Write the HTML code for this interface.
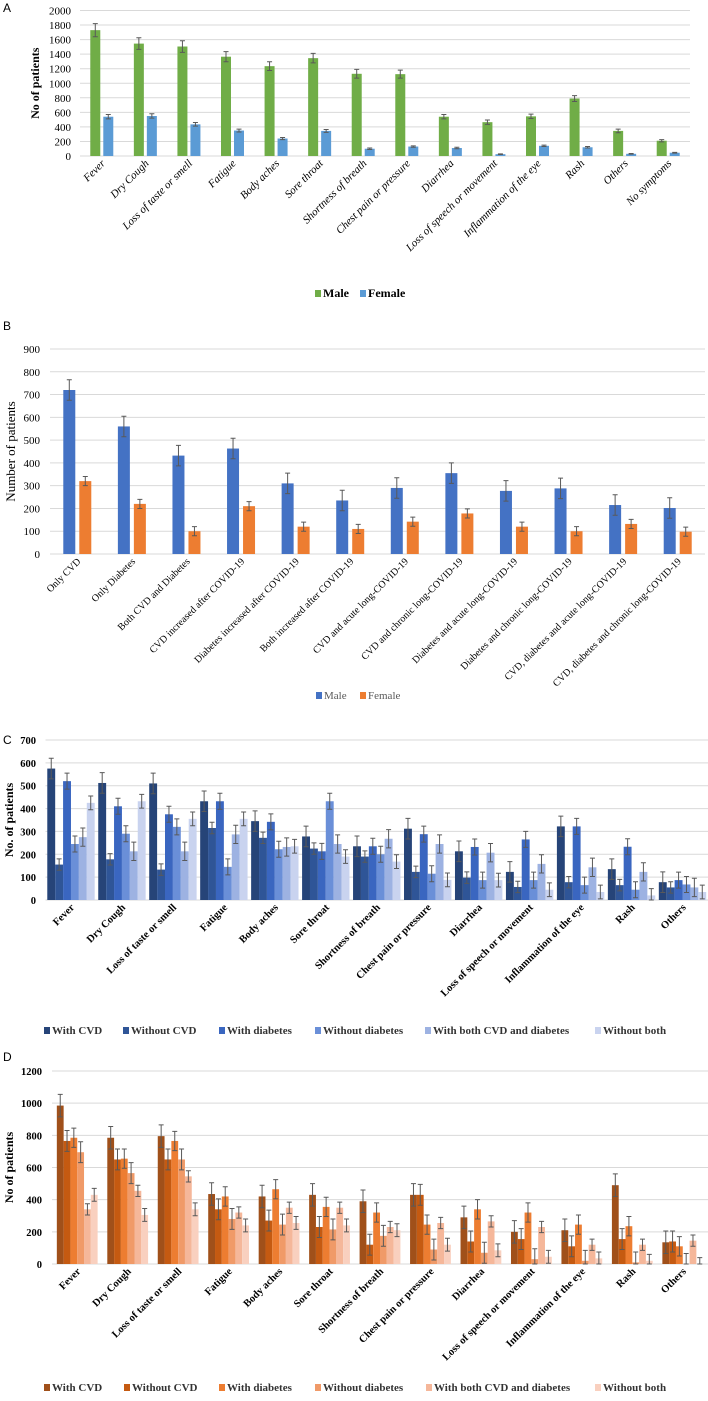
<!DOCTYPE html>
<html><head><meta charset="utf-8"><style>
body{margin:0;background:#fff}
svg{display:block;font-family:"Liberation Serif",serif}
svg text{font-family:"Liberation Serif",serif}
svg text.pl{font-family:"Liberation Sans",sans-serif}
</style></head><body>
<svg id="s" width="708" height="1401" xmlns="http://www.w3.org/2000/svg"></svg>
<script>
// ---------- Panel A data ----------
const catsA=["Fever","Dry Cough","Loss of taste or smell","Fatigue","Body aches","Sore throat","Shortness of breath","Chest pain or pressure","Diarrhea","Loss of speech or movement","Inflammation of the eye","Rash","Others","No symptoms"];
const maleA=[1730,1545,1505,1365,1235,1345,1130,1125,540,465,545,790,345,210];
const femaleA=[540,550,435,350,240,345,100,130,110,25,140,120,30,45];
const maleErrA=[90,80,80,70,60,65,60,55,30,30,30,40,25,15];
const femaleErrA=[30,30,25,20,15,20,10,10,10,5,10,10,5,5];
const ticksA=[0,200,400,600,800,1000,1200,1400,1600,1800,2000];
// ---------- Panel B data ----------
const catsB=["Only CVD","Only Diabetes","Both CVD and Diabetes","CVD increased after COVID-19","Diabetes increased after COVID-19","Both increased after COVID-19","CVD and acute long-COVID-19","CVD and chronic long-COVID-19","Diabetes and acute long-COVID-19","Diabetes and chronic long-COVID-19","CVD, diabetes and acute long-COVID-19","CVD, diabetes and chronic long-COVID-19"];
const maleB=[720,560,432,463,310,235,290,355,277,288,215,202];
const femaleB=[320,220,100,210,120,110,142,178,120,100,132,98];
const maleErrB=[45,45,45,45,45,45,45,45,45,45,45,45];
const femaleErrB=[20,20,20,20,20,20,20,20,20,20,20,20];
const ticksB=[0,100,200,300,400,500,600,700,800,900];
// ---------- Panel C/D shared ----------
const catsCD=["Fever","Dry Cough","Loss of taste or smell","Fatigue","Body aches","Sore throat","Shortness of breath","Chest pain or pressure","Diarrhea","Loss of speech or movement","Inflammation of the eye","Rash","Others"];
const seriesNames=["With CVD","Without CVD","With diabetes","Without diabetes","With both CVD and diabetes","Without both"];
// ---------- Panel C data ----------
const withCvdC=[575,512,510,432,345,278,235,312,213,123,322,135,78];
const withoutCvdC=[155,178,133,315,272,225,190,123,98,57,78,65,55];
const withDiabC=[520,410,375,432,342,213,235,288,232,265,322,233,87];
const withoutDiabC=[245,290,320,145,222,432,200,115,87,87,65,45,68];
const withBothC=[275,213,213,287,232,245,268,245,207,158,143,123,55];
const withoutBothC=[425,432,355,355,235,190,168,88,87,45,35,20,35];
const errC=[45,25,35,35,40,30];
const ticksC=[0,100,200,300,400,500,600,700];
// ---------- Panel D data ----------
const withCvdD=[985,785,795,435,420,430,390,430,290,200,210,490,135];
const withoutCvdD=[765,650,650,340,270,230,120,430,140,155,110,155,140];
const withDiabD=[785,655,765,420,465,355,320,245,340,320,245,235,110];
const withoutDiabD=[695,565,650,280,245,215,175,90,70,30,20,10,0];
const withBothD=[340,455,545,320,350,350,230,255,265,230,120,120,145];
const withoutBothD=[430,305,340,240,255,240,210,120,85,45,35,20,0];
const errD=[70,65,60,65,35,40];
const ticksD=[0,200,400,600,800,1000,1200];

const NS="http://www.w3.org/2000/svg";
const svg=document.getElementById('s');
function mk(tag,attrs,parent){const e=document.createElementNS(NS,tag);for(const k in attrs)e.setAttribute(k,attrs[k]);(parent||svg).appendChild(e);return e;}
function txt(str,attrs,parent){const e=mk('text',attrs,parent);e.textContent=str;return e;}

function chart(o){
  const g=mk('g',{});
  
  
  const yMax=o.ticks[o.ticks.length-1];
  const ys=v=>o.y0-(v/yMax)*(o.y0-o.yTop);
  const catW=(o.x1-o.x0)/o.cats.length;
  const xc=i=>o.x0+catW*(i+0.5);
  const pl=txt(o.letter,{x:3,y:o.letterY,'class':'pl','font-size':12,fill:'#000'},g);
  
  
  o.ticks.forEach(t=>{
    const gl=mk('line',{x1:o.x0,x2:o.x1,y1:ys(t),y2:ys(t),stroke:'#d9d9d9','stroke-width':1},g);
    
    
    const tl=txt(String(t),{x:o.tickX,y:ys(t)+4,'text-anchor':'end','font-size':o.tickFs,'font-weight':o.bold?'bold':'normal',fill:'#000'},g);
    
    
  });
  const yt=txt(o.yTitle,{x:0,y:0,transform:`translate(${o.titleX},${(o.y0+o.yTop)/2}) rotate(-90)`,'text-anchor':'middle','font-size':o.titleFs,'font-weight':o.titleBold?'bold':'normal',fill:'#000'},g);
  
  
  const n=o.series.length;
  const gw=o.barW*n+o.gap*(n-1);
  o.cats.forEach((c,i)=>{
    o.series.forEach((s,j)=>{
      const v=s[i], e=o.errs[j][i]!==undefined?o.errs[j][i]:o.errs[j];
      const bx=xc(i)-gw/2+j*(o.barW+o.gap);
      const b=mk('rect',{x:bx,y:ys(v),width:o.barW,height:Math.max(0,o.y0-ys(v)),fill:o.colors[j]},g);
      
      
      const cx=bx+o.barW/2, lo=Math.max(0,v-e), hi=v+e;
      const eb=mk('path',{d:`M${cx},${ys(lo)}V${ys(hi)}M${cx-2.5},${ys(hi)}H${cx+2.5}M${cx-2.5},${ys(lo)}H${cx+2.5}`,stroke:'#595959','stroke-width':1,fill:'none'},g);
      
      
    });
    const lx=xc(i)+4, ly=o.y0+o.labelDy;
    const cl=txt(c,{x:0,y:0,transform:`translate(${lx},${ly}) rotate(-45)`,'text-anchor':'end','font-size':o.labelFs,'font-style':o.italic?'italic':'normal','font-weight':o.bold?'bold':'normal',fill:'#000'},g);
    
    
  });
  o.legend.forEach((L,j)=>{
    const r=mk('rect',{x:L[0],y:o.legendY-7,width:6,height:7,fill:o.colors[j]},g);
    
    
    const t=txt(L[1],{x:L[0]+8,y:o.legendY,'font-size':o.legendFs,'font-weight':o.legendBold?'bold':'normal',fill:o.legendColor||'#000'},g);
    
    
  });
}

chart({name:'chart-a',letter:'A',letterY:12,x0:80,x1:690,y0:156,yTop:10.5,ticks:ticksA,cats:catsA,
  series:[maleA,femaleA],errs:[maleErrA,femaleErrA],colors:['#70ad47','#5b9bd5'],barW:10,gap:3,
  tickX:71,tickFs:11,yTitle:'No of patients',titleX:39,titleFs:12,titleBold:true,labelDy:8,labelFs:11,italic:true,bold:false,
  legend:[[315,'Male'],[360,'Female']],legendY:297,legendFs:12,legendBold:true});
chart({name:'chart-b',letter:'B',letterY:330,x0:50,x1:705,y0:554,yTop:349,ticks:ticksB,cats:catsB,
  series:[maleB,femaleB],errs:[maleErrB,femaleErrB],colors:['#4472c4','#ed7d31'],barW:12,gap:4,
  tickX:40,tickFs:11,yTitle:'Number of patients',titleX:15,titleFs:13,titleBold:false,labelDy:8,labelFs:10,italic:false,bold:false,
  legend:[[316,'Male'],[360,'Female']],legendY:699,legendFs:11,legendBold:false,legendColor:'#595959'});
chart({name:'chart-c',letter:'C',letterY:744,x0:45.5,x1:708,y0:900,yTop:740,ticks:ticksC,cats:catsCD,
  series:[withCvdC,withoutCvdC,withDiabC,withoutDiabC,withBothC,withoutBothC],errs:errC,
  colors:['#264478','#2f5597','#3a66c0','#6a8fd8','#9db2e2','#c9d3ef'],barW:7.9,gap:0,
  tickX:36,tickFs:10.5,yTitle:'No. of patients',titleX:13,titleFs:12,titleBold:true,labelDy:8,labelFs:10.5,italic:false,bold:true,
  legend:[[44,seriesNames[0]],[123,seriesNames[1]],[219,seriesNames[2]],[315,seriesNames[3]],[425,seriesNames[4]],[595,seriesNames[5]]],
  legendY:1034,legendFs:11,legendBold:true,legendColor:'#333'});
chart({name:'chart-d',letter:'D',letterY:1061,x0:52,x1:708,y0:1264,yTop:1071,ticks:ticksD,cats:catsCD,
  series:[withCvdD,withoutCvdD,withDiabD,withoutDiabD,withBothD,withoutBothD],errs:errD,
  colors:['#a0501a','#c55a11','#ed7d31','#f09a68','#f5b79a','#f9d0bf'],barW:6.8,gap:0,
  tickX:42,tickFs:10.5,yTitle:'No of patients',titleX:13,titleFs:12,titleBold:true,labelDy:8,labelFs:10.5,italic:false,bold:true,
  legend:[[44,seriesNames[0]],[124,seriesNames[1]],[219,seriesNames[2]],[315,seriesNames[3]],[426,seriesNames[4]],[595,seriesNames[5]]],
  legendY:1391,legendFs:11,legendBold:true,legendColor:'#333'});
</script>
</body></html>
